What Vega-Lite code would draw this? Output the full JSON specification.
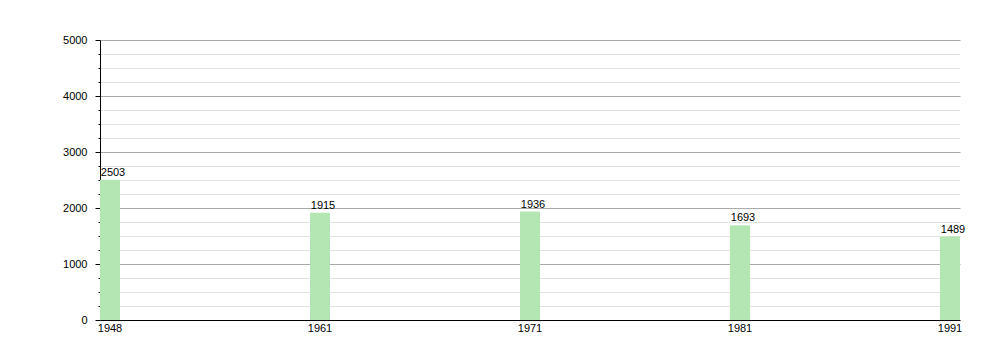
{
  "$schema": "https://vega.github.io/schema/vega-lite/v6.json",
  "width": 860,
  "height": 280,
  "autosize": "none",
  "padding": {"left": 100, "top": 40, "right": 40, "bottom": 40},
  "background": "white",
  "config": {
    "view": {"stroke": null},
    "font": "Liberation Sans",
    "text": {"font": "Liberation Sans"}
  },
  "data": {
    "values": [
      {"year": "1948", "pop": 2503},
      {"year": "1961", "pop": 1915},
      {"year": "1971", "pop": 1936},
      {"year": "1981", "pop": 1693},
      {"year": "1991", "pop": 1489}
    ]
  },
  "encoding": {
    "x": {
      "field": "year",
      "type": "ordinal",
      "sort": null,
      "scale": {"paddingInner": 0.90476, "paddingOuter": 0},
      "axis": {
        "title": null,
        "labelAngle": 0,
        "ticks": false,
        "domainColor": "#000000",
        "labelColor": "#000000",
        "labelFont": "Liberation Sans",
        "labelFontSize": 11,
        "labelPadding": 2,
        "grid": false
      }
    },
    "y": {
      "field": "pop",
      "type": "quantitative",
      "scale": {"domain": [0, 5000], "nice": false},
      "axis": {
        "title": null,
        "values": [0,250,500,750,1000,1250,1500,1750,2000,2250,2500,2750,3000,3250,3500,3750,4000,4250,4500,4750,5000],
        "labelExpr": "datum.value % 1000 === 0 ? datum.value : ''",
        "grid": true,
        "gridColor": {"condition": {"test": "datum.value % 1000 === 0", "value": "#aaaaaa"}, "value": "#e2e2e2"},
        "gridOpacity": 1,
        "tickSize": {"condition": {"test": "datum.value % 1000 === 0", "value": 5}, "value": 2},
        "tickColor": "#000000",
        "domainColor": "#000000",
        "labelColor": "#000000",
        "labelFont": "Liberation Sans",
        "labelFontSize": 11,
        "labelPadding": 8
      }
    }
  },
  "layer": [
    {"mark": {"type": "bar", "color": "#b3e6b3"}},
    {
      "mark": {"type": "text", "baseline": "bottom", "dy": -2, "dx": 3, "fontSize": 11, "color": "#000000", "font": "Liberation Sans"},
      "encoding": {"text": {"field": "pop", "type": "quantitative"}}
    }
  ]
}
